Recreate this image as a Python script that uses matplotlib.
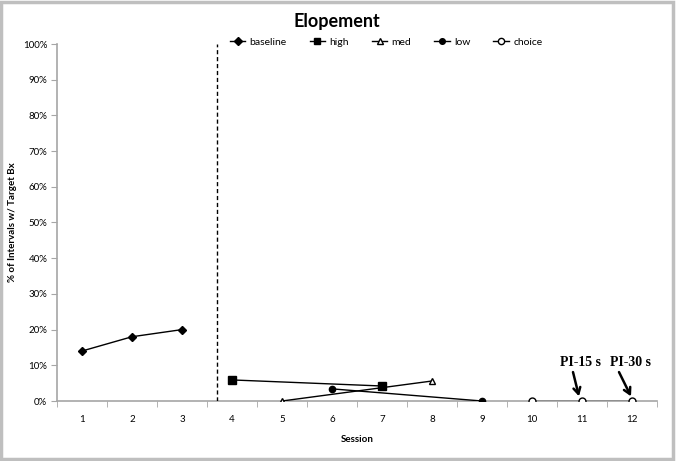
import matplotlib
matplotlib.use('Agg')
import matplotlib.pyplot as plt
from matplotlib.patches import Rectangle

plt.rcParams['font.family'] = ['Lato', 'DejaVu Sans']

# data (% of intervals)
baseline_x = [1, 2, 3]
baseline_y = [14, 18, 20]
high_x = [4, 7]
high_y = [5.9, 4.2]
med_x = [5, 8]
med_y = [0, 5.6]
low_x = [6, 9]
low_y = [3.4, 0]
choice_x = [10, 11, 12]
choice_y = [0, 0, 0]
sessions = list(range(1, 13))
yticks = list(range(0, 101, 10))
phase_line = 3.7

fig = plt.figure(figsize=(6.77, 4.61), dpi=100)
ax = fig.add_axes([57 / 677, 60 / 461, 600 / 677, 357 / 461])

grey = '#a6a6a6'
ax.plot(baseline_x, baseline_y, '-D', color='black', lw=1, ms=4, label='baseline')
ax.plot(high_x, high_y, '-s', color='black', lw=1, ms=5.5, label='high')
ax.plot(med_x, med_y, '-^', color='black', mfc='white', lw=1, ms=5, label='med')
ax.plot(low_x, low_y, '-o', color='black', lw=1, ms=4.5, label='low')
ax.plot(choice_x, choice_y, '-o', color='black', mfc='white', lw=1, ms=5, label='choice')

ax.axvline(phase_line, color='black', ls='--', lw=1, dashes=(3, 2))

ax.set_xlim(0.5, 12.5)
ax.set_ylim(0, 100)
ax.set_xticks(sessions)
ax.set_xticklabels([str(s) for s in sessions], fontsize=7)
ax.set_xticks([s + 0.5 for s in [0] + sessions], minor=True)
ax.tick_params(axis='x', which='major', length=0, pad=10)
ax.tick_params(axis='x', which='minor', length=4, color=grey, direction='out')
ax.set_yticks(yticks)
ax.set_yticklabels(['%d%%' % v for v in yticks], fontsize=7)
ax.tick_params(axis='y', length=4, color=grey, pad=3)

for s in ['top', 'right']:
    ax.spines[s].set_visible(False)
for s in ['left', 'bottom']:
    ax.spines[s].set_color(grey)
    ax.spines[s].set_linewidth(1.2)
ax.spines['bottom'].set_zorder(0)

ax.set_xlabel('Session', fontsize=7, fontweight='bold', labelpad=8)
ax.set_ylabel('% of Intervals w/ Target Bx', fontsize=7, fontweight='bold')
ax.yaxis.set_label_coords(-40 / 600, 0.5)

fig.text(337 / 677, 1 - 22 / 461, 'Elopement', ha='center', va='center',
         fontsize=13, fontweight='bold')

ax.legend(loc='center', bbox_to_anchor=(386 / 677, 1 - 42 / 461),
          bbox_transform=fig.transFigure, ncol=5, frameon=False, fontsize=7.5,
          handlelength=1.5, handletextpad=0.4, columnspacing=2.2, markerscale=0.9)

ann_font = dict(family='Liberation Serif', fontweight='bold', fontsize=10)
arrow = dict(arrowstyle='->, head_length=0.45, head_width=0.25', color='black',
             lw=1.8, shrinkA=0, shrinkB=0)
ax.text(10.96, 10.9, 'PI-15 s', ha='center', va='center', **ann_font)
ax.annotate('', xy=(10.94, 1.3), xytext=(10.82, 8.1), arrowprops=arrow)
ax.text(11.98, 10.9, 'PI-30 s', ha='center', va='center', **ann_font)
ax.annotate('', xy=(11.98, 1.3), xytext=(11.74, 8.1), arrowprops=arrow)

fig.patches.append(Rectangle((0.002, 0.004), 0.992, 0.992, transform=fig.transFigure,
                             fill=False, edgecolor='#bfbfbf', lw=2.5))

fig.savefig('out.png', dpi=100)
